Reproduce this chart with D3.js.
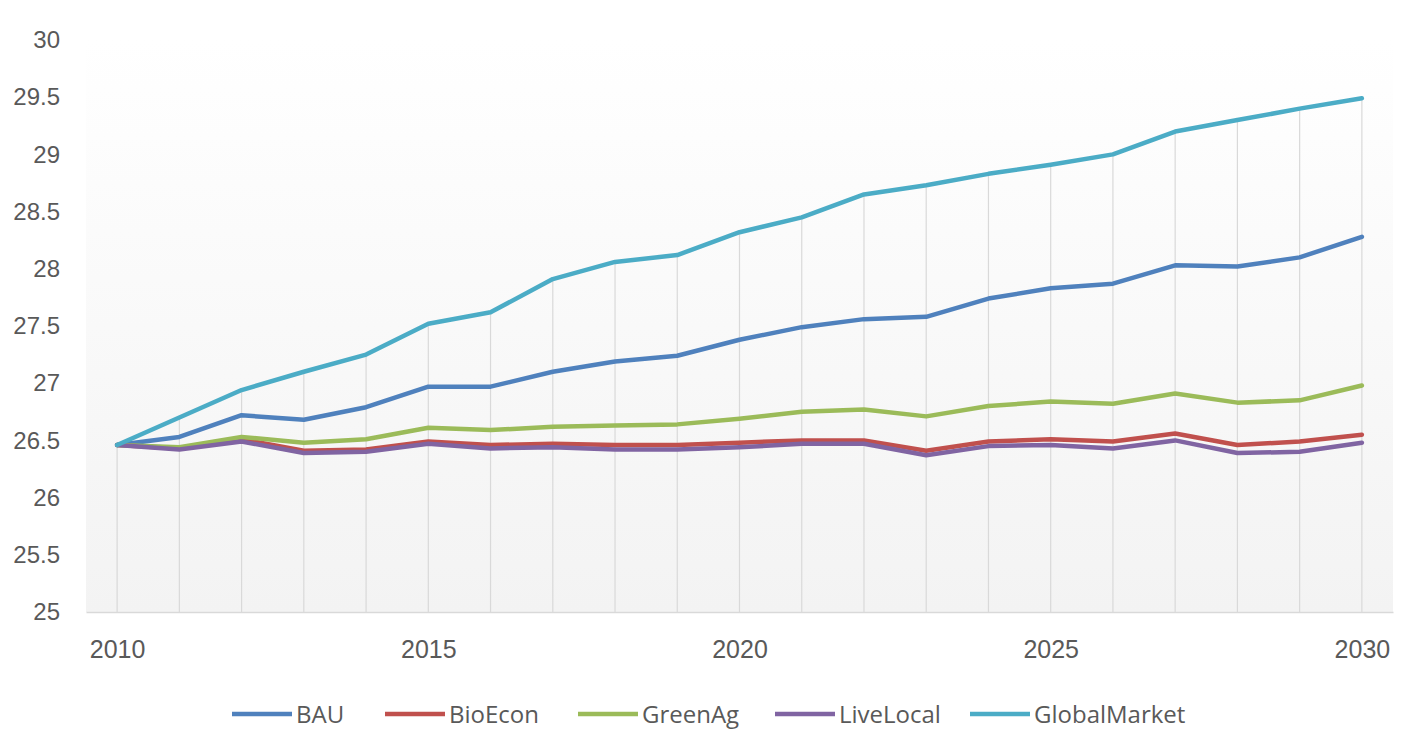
<!DOCTYPE html>
<html>
<head>
<meta charset="utf-8">
<script src="https://cdn.jsdelivr.net/npm/d3@7"></script>
<style>
  body { margin: 0; background: #fff; }
  svg { display: block; }
</style>
</head>
<body>
<div id="chart"></div>
<script>
  // Data
  const years = d3.range(2010, 2031);
  const seriesNames = ["BAU", "BioEcon", "GreenAg", "LiveLocal", "GlobalMarket"];
  const seriesColors = ["#4f81bd", "#c0504d", "#9bbb59", "#8064a2", "#4bacc6"];

  const bau = [26.46, 26.53, 26.72, 26.68, 26.79, 26.97, 26.97, 27.10, 27.19, 27.24, 27.38,
               27.49, 27.56, 27.58, 27.74, 27.83, 27.87, 28.03, 28.02, 28.10, 28.28];
  const bioEcon = [26.46, 26.43, 26.51, 26.41, 26.42, 26.49, 26.46, 26.47, 26.46, 26.46, 26.48,
                   26.50, 26.50, 26.41, 26.49, 26.51, 26.49, 26.56, 26.46, 26.49, 26.55];
  const greenAg = [26.46, 26.44, 26.53, 26.48, 26.51, 26.61, 26.59, 26.62, 26.63, 26.64, 26.69,
                   26.75, 26.77, 26.71, 26.80, 26.84, 26.82, 26.91, 26.83, 26.85, 26.98];
  const liveLocal = [26.46, 26.42, 26.49, 26.39, 26.40, 26.47, 26.43, 26.44, 26.42, 26.42, 26.44,
                     26.47, 26.47, 26.37, 26.45, 26.46, 26.43, 26.50, 26.39, 26.40, 26.48];
  const globalMarket = [26.46, 26.70, 26.94, 27.10, 27.25, 27.52, 27.62, 27.91, 28.06, 28.12, 28.32,
                        28.45, 28.65, 28.73, 28.83, 28.91, 29.00, 29.20, 29.30, 29.40, 29.49];

  const yTicks = [25, 25.5, 26, 26.5, 27, 27.5, 28, 28.5, 29, 29.5, 30];
  const xTickLabels = [2010, 2015, 2020, 2025, 2030];

  const allSeries = [bau, bioEcon, greenAg, liveLocal, globalMarket];

  const width = 1413;
  const height = 729;
  const plot = { left: 86, right: 1393, top: 40, bottom: 612 };

  const svg = d3.select("#chart").append("svg")
    .attr("width", width)
    .attr("height", height)
    .style("font-family", "'Open Sans', 'DejaVu Sans', sans-serif");

  // faint gradient background for the plot area
  const defs = svg.append("defs");
  const grad = defs.append("linearGradient")
    .attr("id", "plotBg")
    .attr("x1", 0).attr("y1", 0).attr("x2", 0).attr("y2", 1);
  grad.append("stop").attr("offset", "0%").attr("stop-color", "#ffffff");
  grad.append("stop").attr("offset", "100%").attr("stop-color", "#f3f3f3");

  svg.append("rect")
    .attr("x", plot.left)
    .attr("y", plot.top)
    .attr("width", plot.right - plot.left)
    .attr("height", plot.bottom - plot.top)
    .attr("fill", "url(#plotBg)");

  // Scales
  const x = d3.scaleLinear()
    .domain([2009.5, 2030.5])
    .range([plot.left, plot.right]);

  const y = d3.scaleLinear()
    .domain([25, 30])
    .range([plot.bottom, plot.top]);

  // Drop lines from highest series down to the axis
  svg.append("g").selectAll("line")
    .data(years)
    .enter().append("line")
      .attr("x1", d => x(d))
      .attr("x2", d => x(d))
      .attr("y1", (d, i) => y(d3.max(allSeries, s => s[i])))
      .attr("y2", y(25))
      .attr("stroke", "#d9d9d9")
      .attr("stroke-width", 1.2);

  // X axis
  const xAxis = svg.append("g")
    .attr("transform", `translate(0, ${plot.bottom})`)
    .call(d3.axisBottom(x).tickValues(xTickLabels).tickFormat(d3.format("d")).tickSize(0).tickPadding(28));
  xAxis.select(".domain").attr("stroke", "#d9d9d9").attr("stroke-width", 1.5);
  xAxis.selectAll("text")
    .attr("fill", "#595959")
    .style("font-size", "25px");

  // Y axis
  const yAxis = svg.append("g")
    .attr("transform", `translate(${plot.left}, 0)`)
    .call(d3.axisLeft(y).tickValues(yTicks).tickFormat(d3.format("")).tickSize(0).tickPadding(26));
  yAxis.select(".domain").remove();
  yAxis.selectAll("text")
    .attr("fill", "#595959")
    .style("font-size", "24px");

  // Lines
  const line = d3.line()
    .x((d, i) => x(years[i]))
    .y(d => y(d));

  svg.append("g").selectAll("path")
    .data(allSeries)
    .enter().append("path")
      .attr("d", line)
      .attr("fill", "none")
      .attr("stroke", (d, i) => seriesColors[i])
      .attr("stroke-width", 4.5)
      .attr("stroke-linejoin", "round")
      .attr("stroke-linecap", "round");

  // Legend
  const legendX = [232, 385, 578, 775, 970];
  const legend = svg.append("g");
  seriesNames.forEach((name, i) => {
    const g = legend.append("g").attr("transform", `translate(${legendX[i]}, 714)`);
    g.append("line")
      .attr("x1", 0).attr("x2", 60)
      .attr("stroke", seriesColors[i])
      .attr("stroke-width", 4.5);
    g.append("text")
      .attr("x", 64)
      .attr("y", 9)
      .attr("fill", "#595959")
      .style("font-size", "24px")
      .text(name);
  });
</script>
</body>
</html>
